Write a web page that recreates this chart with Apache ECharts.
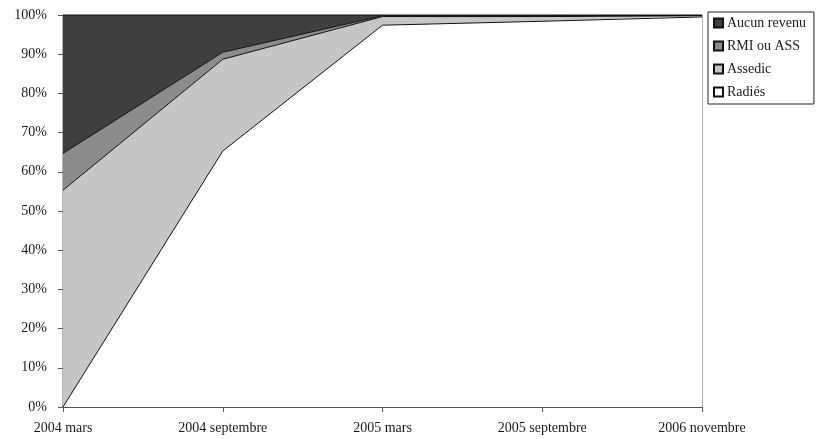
<!DOCTYPE html>
<html>
<head>
<meta charset="utf-8">
<script src="https://cdn.jsdelivr.net/npm/echarts@6/dist/echarts.min.js"></script>
<style>
  html, body { margin: 0; padding: 0; background: #fff; }
  #chart { width: 816px; height: 439px; }
</style>
</head>
<body>
<div id="chart"></div>
<script>
// Periods on the horizontal axis
const periods = ['2004 mars', '2004 septembre', '2005 mars', '2005 septembre', '2006 novembre'];

// Share of each situation (percent), stacked bottom to top
const radies = [0, 65.3, 97.4, 98.4, 99.5];
const assedic = [55.3, 23.4, 2.2, 1.2, 0.3];
const rmiAss = [9.4, 1.8, 0.2, 0.2, 0.1];
const aucunRevenu = [35.3, 9.5, 0.2, 0.2, 0.1];

const yTicks = [0, 10, 20, 30, 40, 50, 60, 70, 80, 90, 100];

const font = 'Liberation Serif, Times New Roman, serif';
const ink = '#1a1a1a';

function layer(name, data, color) {
  return {
    name: name,
    type: 'line',
    stack: 'total',
    data: data,
    symbol: 'none',
    lineStyle: { color: '#111', width: 1 },
    areaStyle: { color: color, opacity: 1 },
    itemStyle: { color: color, borderColor: '#111', borderWidth: 1 },
    emphasis: { disabled: true }
  };
}

const chart = echarts.init(document.getElementById('chart'));
chart.setOption({
  animation: false,
  backgroundColor: '#fff',
  textStyle: { fontFamily: font, color: ink },
  grid: {
    left: 63, right: 114, top: 15, bottom: 32,
    show: true, borderColor: '#666', borderWidth: 1, backgroundColor: 'transparent'
  },
  legend: {
    orient: 'vertical',
    left: 708, top: 12,
    padding: [4, 8, 5, 5],
    itemWidth: 9, itemHeight: 9, itemGap: 9,
    icon: 'rect',
    borderColor: '#222', borderWidth: 1,
    textStyle: { fontFamily: font, fontSize: 14, color: ink, padding: [0, 0, 0, -1] },
    data: ['Aucun revenu', 'RMI ou ASS', 'Assedic', 'Radiés']
  },
  xAxis: {
    type: 'category',
    data: periods,
    boundaryGap: false,
    axisLine: { lineStyle: { color: '#555' } },
    axisTick: { show: true, length: 5, lineStyle: { color: '#555' } },
    axisLabel: { fontFamily: font, fontSize: 14, color: ink, margin: 14, interval: 0 },
    splitLine: { show: false }
  },
  yAxis: {
    type: 'value',
    min: 0, max: 100, interval: 10,
    axisLine: { show: true, lineStyle: { color: '#555' } },
    axisTick: { show: true, length: 5, lineStyle: { color: '#555' } },
    axisLabel: {
      fontFamily: font, fontSize: 14, color: ink, margin: 16,
      formatter: v => (yTicks.includes(v) ? v + '%' : '')
    },
    splitLine: { show: false }
  },
  series: [
    layer('Radiés', radies, '#ffffff'),
    layer('Assedic', assedic, '#c6c6c6'),
    layer('RMI ou ASS', rmiAss, '#8c8c8c'),
    layer('Aucun revenu', aucunRevenu, '#3f3f3f')
  ]
});
</script>
</body>
</html>
